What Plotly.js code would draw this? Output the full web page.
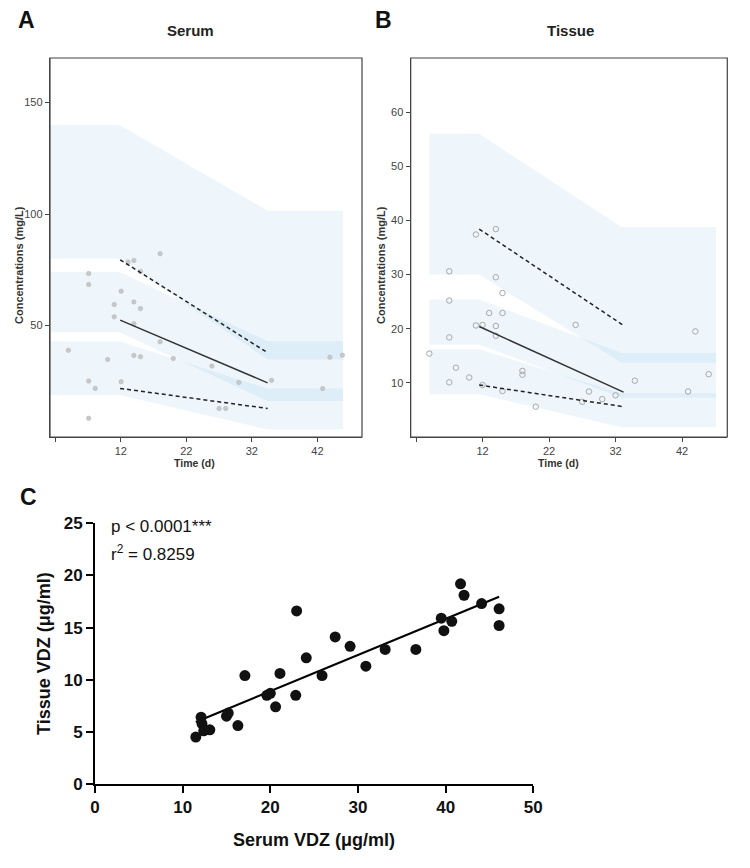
<!DOCTYPE html>
<html>
<head>
<meta charset="utf-8">
<script src="https://cdn.plot.ly/plotly-3.0.1.min.js"></script>
<style>html,body{margin:0;padding:0;background:#fff;}#chart{width:750px;height:868px;}</style>
</head>
<body>
<div id="chart"></div>
<script>
// ---------- Panel A: Serum VPC ----------
const serumTime = [4.0, 7.1, 7.1, 7.1, 8.1, 7.1, 10.0, 11.0, 11.0, 12.05, 12.05, 13.1, 14.0, 14.0, 14.0, 14.0, 15.0, 15.0, 15.0, 18.0, 18.0, 20.0, 25.9, 27.0, 28.0, 30.0, 35.0, 42.8, 43.9, 45.8];
const serumConc = [38.9, 73.3, 68.4, 25.1, 21.8, 8.4, 34.8, 59.4, 53.9, 65.4, 24.8, 78.5, 79.2, 60.6, 50.8, 36.6, 74.2, 57.6, 36.0, 82.2, 42.7, 35.2, 31.8, 12.8, 12.8, 24.5, 25.4, 21.7, 35.8, 36.7];
const serumBandTime = [1.3, 11.8, 34.4, 45.9];
const serumP95Hi = [140, 140, 101.5, 101.5];
const serumP95Lo = [80, 80, 34.8, 34.8];
const serumP50Hi = [74, 74, 43, 43];
const serumP50Lo = [47, 47, 16.1, 16.1];
const serumP5Hi = [43, 43, 21.7, 21.7];
const serumP5Lo = [18.8, 18.8, 3.4, 3.4];
const serumObsTime = [11.9, 34.4];
const serumObs95 = [79.5, 37.8];
const serumObs50 = [52.4, 24.3];
const serumObs5 = [21.8, 12.8];

// ---------- Panel B: Tissue VPC ----------
const tissueTime = [4.0, 7.0, 7.0, 7.0, 7.0, 8.0, 10.0, 11.0, 11.0, 12.0, 12.0, 13.0, 14.0, 14.0, 14.0, 14.0, 15.0, 15.0, 15.0, 18.0, 18.0, 20.0, 26.0, 27.0, 28.0, 30.0, 32.0, 34.9, 42.9, 44.0, 46.0];
const tissueConc = [15.4, 30.6, 25.2, 18.4, 10.1, 12.8, 11.0, 37.4, 20.6, 20.7, 9.6, 22.9, 38.4, 29.5, 20.5, 18.7, 26.6, 22.9, 8.5, 12.2, 11.5, 5.6, 20.7, 6.5, 8.4, 7.0, 7.7, 10.4, 8.4, 19.5, 11.6];
const tissueBandTime = [4.0, 11.5, 32.9, 47.1];
const tissueP95Hi = [56, 56, 38.8, 38.8];
const tissueP95Lo = [30, 30, 13.7, 13.7];
const tissueP50Hi = [25.4, 25.4, 15.5, 15.5];
const tissueP50Lo = [17.05, 17.05, 7.3, 7.3];
const tissueP5Hi = [16.2, 16.2, 8.1, 8.1];
const tissueP5Lo = [7.9, 7.9, 1.8, 1.8];
const tissueObsTime = [11.5, 33.2];
const tissueObs95 = [38.4, 20.6];
const tissueObs50 = [20.4, 8.3];
const tissueObs5 = [9.6, 5.6];

// ---------- Panel C: correlation ----------
const vdzSerum = [11.5, 12.1, 12.2, 12.4, 13.1, 15.0, 15.2, 16.3, 17.1, 19.6, 20.0, 20.6, 21.1, 22.9, 23.0, 24.1, 25.9, 27.4, 29.1, 30.9, 33.1, 36.6, 39.5, 39.8, 40.7, 41.7, 42.1, 44.1, 46.1, 46.1];
const vdzTissue = [4.5, 6.4, 5.8, 5.1, 5.2, 6.5, 6.8, 5.6, 10.4, 8.5, 8.7, 7.4, 10.6, 8.5, 16.6, 12.1, 10.4, 14.1, 13.2, 11.3, 12.9, 12.9, 15.9, 14.7, 15.6, 19.2, 18.1, 17.3, 16.8, 15.2];

// ---------- tick labels ----------
const vpcTicksX = [12, 22, 32, 42];
const vpcTickAll = [2, 12, 22, 32, 42];
const serumTicksY = [50, 100, 150];
const tissueTicksY = [10, 20, 30, 40, 50, 60];
const cTicksX = [0, 10, 20, 30, 40, 50];
const cTicksY = [0, 5, 10, 15, 20, 25];

const W = 750, H = 868;
const px = v => v / W;
const py = v => 1 - v / H;
const FONT = 'Liberation Sans, Arial, sans-serif';
const bandFill = 'rgba(100,170,230,0.11)';

function band(t, hi, lo, xa, ya) {
  return {x: t.concat(t.slice().reverse()), y: hi.concat(lo.slice().reverse()),
    xaxis: xa, yaxis: ya, type: 'scatter', mode: 'lines', fill: 'toself',
    fillcolor: bandFill, line: {width: 0}, hoverinfo: 'skip', showlegend: false};
}
function pline(t, y, xa, ya, dash) {
  return {x: t, y: y, xaxis: xa, yaxis: ya, type: 'scatter', mode: 'lines',
    line: {color: dash ? '#222' : '#333', width: 1.5, dash: dash ? '4px,3px' : 'solid'}, showlegend: false};
}

// least squares fit for panel C
const n = vdzSerum.length;
const mx = vdzSerum.reduce((a, b) => a + b, 0) / n;
const my = vdzTissue.reduce((a, b) => a + b, 0) / n;
let sxy = 0, sxx = 0;
for (let i = 0; i < n; i++) { sxy += (vdzSerum[i] - mx) * (vdzTissue[i] - my); sxx += (vdzSerum[i] - mx) ** 2; }
const slope = sxy / sxx, icpt = my - slope * mx;
const fitX = [Math.min(...vdzSerum), Math.max(...vdzSerum)];
const fitY = fitX.map(x => icpt + slope * x);

const traces = [
  band(serumBandTime, serumP95Hi, serumP95Lo, 'x', 'y'),
  band(serumBandTime, serumP50Hi, serumP50Lo, 'x', 'y'),
  band(serumBandTime, serumP5Hi, serumP5Lo, 'x', 'y'),
  {x: serumTime, y: serumConc, xaxis: 'x', yaxis: 'y', type: 'scatter', mode: 'markers',
   marker: {size: 4.5, color: '#c8c8c8', line: {color: '#b4b4b4', width: 0.5}}, showlegend: false},
  pline(serumObsTime, serumObs95, 'x', 'y', true),
  pline(serumObsTime, serumObs50, 'x', 'y', false),
  pline(serumObsTime, serumObs5, 'x', 'y', true),

  band(tissueBandTime, tissueP95Hi, tissueP95Lo, 'x2', 'y2'),
  band(tissueBandTime, tissueP50Hi, tissueP50Lo, 'x2', 'y2'),
  band(tissueBandTime, tissueP5Hi, tissueP5Lo, 'x2', 'y2'),
  {x: tissueTime, y: tissueConc, xaxis: 'x2', yaxis: 'y2', type: 'scatter', mode: 'markers',
   marker: {size: 5.5, symbol: 'circle-open', color: '#a8a8a8', line: {width: 1}}, showlegend: false},
  pline(tissueObsTime, tissueObs95, 'x2', 'y2', true),
  pline(tissueObsTime, tissueObs50, 'x2', 'y2', false),
  pline(tissueObsTime, tissueObs5, 'x2', 'y2', true),

  {x: fitX, y: fitY, xaxis: 'x3', yaxis: 'y3', type: 'scatter', mode: 'lines',
   line: {color: '#000', width: 2.2}, showlegend: false},
  {x: vdzSerum, y: vdzTissue, xaxis: 'x3', yaxis: 'y3', type: 'scatter', mode: 'markers',
   marker: {size: 11, color: '#111'}, showlegend: false}
];

const vpcAxisBase = {showline: true, linecolor: '#444', linewidth: 1.2, mirror: false,
  ticks: 'outside', ticklen: 4, tickwidth: 1, tickcolor: '#444', showgrid: false, zeroline: false,
  tickfont: {family: FONT, size: 11, color: '#444'}};
const cAxisBase = {showline: true, linecolor: '#000', linewidth: 2, ticks: 'outside', ticklen: 7,
  tickwidth: 2, tickcolor: '#000', showgrid: false, zeroline: false, mirror: false,
  tickmode: 'array', tickfont: {family: FONT, size: 17, color: '#111', weight: 700}};
const vpcMinor = {tick0: 2, dtick: 10, ticks: 'outside', ticklen: 4, tickwidth: 1, tickcolor: '#444', showgrid: false};

const domA = [px(50), px(362)], domB = [px(410.7), px(727.3)], domY = [py(437), py(58)];
const bold = arr => arr.map(v => '<b>' + v + '</b>');

const layout = {
  width: W, height: H, margin: {l: 0, r: 0, t: 0, b: 0},
  paper_bgcolor: '#fff', plot_bgcolor: 'rgba(0,0,0,0)', showlegend: false,
  font: {family: FONT},
  xaxis: Object.assign({}, vpcAxisBase, {domain: domA, range: [1.2, 48.8],
    tickmode: 'array', tickvals: vpcTicksX, minor: vpcMinor, anchor: 'y'}),
  yaxis: Object.assign({}, vpcAxisBase, {domain: domY, range: [0, 170],
    tickmode: 'array', tickvals: serumTicksY, anchor: 'x'}),
  xaxis4: Object.assign({}, vpcAxisBase, {range: [1.2, 48.8], overlaying: 'x', side: 'top', anchor: 'y',
    tickmode: 'array', tickvals: vpcTickAll, showticklabels: false}),
  yaxis4: Object.assign({}, vpcAxisBase, {range: [0, 170], overlaying: 'y', side: 'right', anchor: 'x',
    tickmode: 'array', tickvals: serumTicksY, showticklabels: false}),
  xaxis2: Object.assign({}, vpcAxisBase, {domain: domB, range: [1.2, 48.8],
    tickmode: 'array', tickvals: vpcTicksX, minor: vpcMinor, anchor: 'y2'}),
  yaxis2: Object.assign({}, vpcAxisBase, {domain: domY, range: [0, 70],
    tickmode: 'array', tickvals: tissueTicksY, anchor: 'x2'}),
  xaxis5: Object.assign({}, vpcAxisBase, {range: [1.2, 48.8], overlaying: 'x2', side: 'top', anchor: 'y2',
    tickmode: 'array', tickvals: vpcTickAll, showticklabels: false}),
  yaxis5: Object.assign({}, vpcAxisBase, {range: [0, 70], overlaying: 'y2', side: 'right', anchor: 'x2',
    tickmode: 'array', tickvals: tissueTicksY, showticklabels: false}),
  xaxis3: Object.assign({}, cAxisBase, {domain: [px(95), px(533.3)], range: [0, 50],
    tickvals: cTicksX, ticktext: bold(cTicksX), anchor: 'y3'}),
  yaxis3: Object.assign({}, cAxisBase, {domain: [py(784), py(523.3)], range: [0, 25],
    tickvals: cTicksY, ticktext: bold(cTicksY), anchor: 'x3'}),
  shapes: [
    {type: 'rect', xref: 'x domain', yref: 'y domain', x0: 0, x1: 1, y0: 0, y1: 1, line: {color: '#444', width: 1.2}, layer: 'above'},
    {type: 'rect', xref: 'x2 domain', yref: 'y2 domain', x0: 0, x1: 1, y0: 0, y1: 1, line: {color: '#444', width: 1.2}, layer: 'above'}
  ],
  annotations: [
    {text: '<b>A</b>', x: px(27), y: py(20), font: {size: 23, color: '#111'}},
    {text: '<b>Serum</b>', x: px(190.7), y: py(31), font: {size: 15, color: '#222'}},
    {text: '<b>B</b>', x: px(383), y: py(20), font: {size: 23, color: '#111'}},
    {text: '<b>Tissue</b>', x: px(570), y: py(31), font: {size: 15, color: '#222'}},
    {text: '<b>Concentrations (mg/L)</b>', x: px(19), y: py(265), textangle: -90, font: {size: 11, color: '#333'}},
    {text: '<b>Concentrations (mg/L)</b>', x: px(381), y: py(265), textangle: -90, font: {size: 11, color: '#333'}},
    {text: '<b>Time (d)</b>', x: px(194.5), y: py(463), font: {size: 10.5, color: '#333'}},
    {text: '<b>Time (d)</b>', x: px(558), y: py(463), font: {size: 10.5, color: '#333'}},
    {text: '<b>C</b>', x: px(28), y: py(497), font: {size: 23, color: '#111'}},
    {text: 'p < 0.0001***', x: px(109), y: py(526), xanchor: 'left', font: {size: 17, color: '#111'}},
    {text: 'r<sup>2</sup> = 0.8259', x: px(109), y: py(553), xanchor: 'left', font: {size: 17, color: '#111'}},
    {text: '<b>Tissue VDZ (μg/ml)</b>', x: px(44), y: py(654), textangle: -90, font: {size: 18, color: '#111'}},
    {text: '<b>Serum VDZ (μg/ml)</b>', x: px(314), y: py(840), font: {size: 18, color: '#111'}}
  ].map(a => Object.assign({xref: 'paper', yref: 'paper', showarrow: false, xanchor: 'center', yanchor: 'middle'},
    a, {font: Object.assign({family: FONT}, a.font)}))
};

Plotly.newPlot('chart', traces, layout, {staticPlot: true, displayModeBar: false});
</script>
</body>
</html>
